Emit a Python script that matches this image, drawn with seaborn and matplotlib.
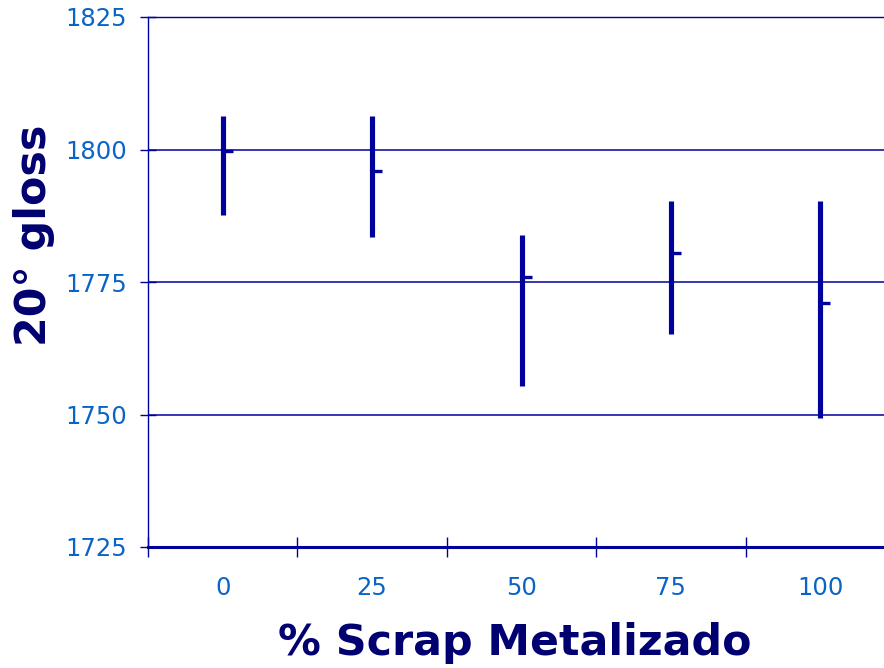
import matplotlib
matplotlib.use("Agg")
import matplotlib.pyplot as plt
import seaborn as sns
import pandas as pd
import numpy as np

# Gloss readings (20°) per scrap level: range low/high and the central value
scrap = ["0", "25", "50", "75", "100"]
gloss_low = [1787.7, 1783.5, 1755.4, 1765.2, 1749.4]
gloss_high = [1806.4, 1806.4, 1783.8, 1790.3, 1790.3]
gloss_mid = [1799.8, 1796.0, 1775.9, 1780.5, 1771.1]
y_ticks = [1725, 1750, 1775, 1800, 1825]

navy = "#00009C"
label_blue = "#0A64C8"
title_navy = "#000070"

sns.set_style("white")
plt.rcParams["font.family"] = ["DejaVu Sans"]

# long form: each level carries its low, mid and high reading
df = pd.DataFrame({
    "scrap": np.repeat(scrap, 3),
    "gloss": np.ravel(np.column_stack([gloss_low, gloss_mid, gloss_high])),
})

fig = plt.figure(figsize=(8.84, 6.68), dpi=100)
ax = fig.add_axes([148 / 884, 121 / 668, 747 / 884, 530 / 668])

sns.pointplot(
    data=df, x="scrap", y="gloss", order=scrap,
    estimator="median",
    errorbar=lambda v: (v.min(), v.max()),
    linestyle="none", marker=1, markersize=7, markeredgewidth=2.4,
    color=navy, capsize=0,
    err_kws={"linewidth": 3.7, "solid_capstyle": "butt"},
    ax=ax,
)

ax.set_xlim(-0.5, 4.5)
ax.set_ylim(1725, 1825)
ax.set_yticks(y_ticks)
for yv in y_ticks[1:-1]:
    ax.axhline(yv, color=navy, linewidth=1.1, zorder=0)

for side in ["left", "top", "right"]:
    ax.spines[side].set_color(navy)
    ax.spines[side].set_linewidth(1.0)
ax.spines["bottom"].set_color(navy)
ax.spines["bottom"].set_linewidth(2.2)

ax.tick_params(axis="y", direction="inout", length=12, width=1.0, color=navy,
               labelsize=17.5, labelcolor=label_blue, pad=9, left=True)
ax.tick_params(axis="x", which="major", length=0, labelsize=17.5,
               labelcolor=label_blue, pad=21)
ax.set_xticks(np.arange(-0.5, 4.6, 1.0), minor=True)
ax.tick_params(axis="x", which="minor", direction="inout", length=14,
               width=1.0, color=navy, bottom=True)

ax.set_xlabel("% Scrap Metalizado", fontsize=30.8, fontweight="bold", color=title_navy)
ax.set_ylabel("20° gloss", fontsize=30.8, fontweight="bold", color=title_navy)
ax.xaxis.set_label_coords((515 - 148) / 747, (547 - 643) / 530)
ax.xaxis.label.set_va("center")
ax.yaxis.set_label_coords((34 - 148) / 747, (547 - 235) / 530)
ax.yaxis.label.set_va("center")

fig.savefig("out.png", dpi=100)
